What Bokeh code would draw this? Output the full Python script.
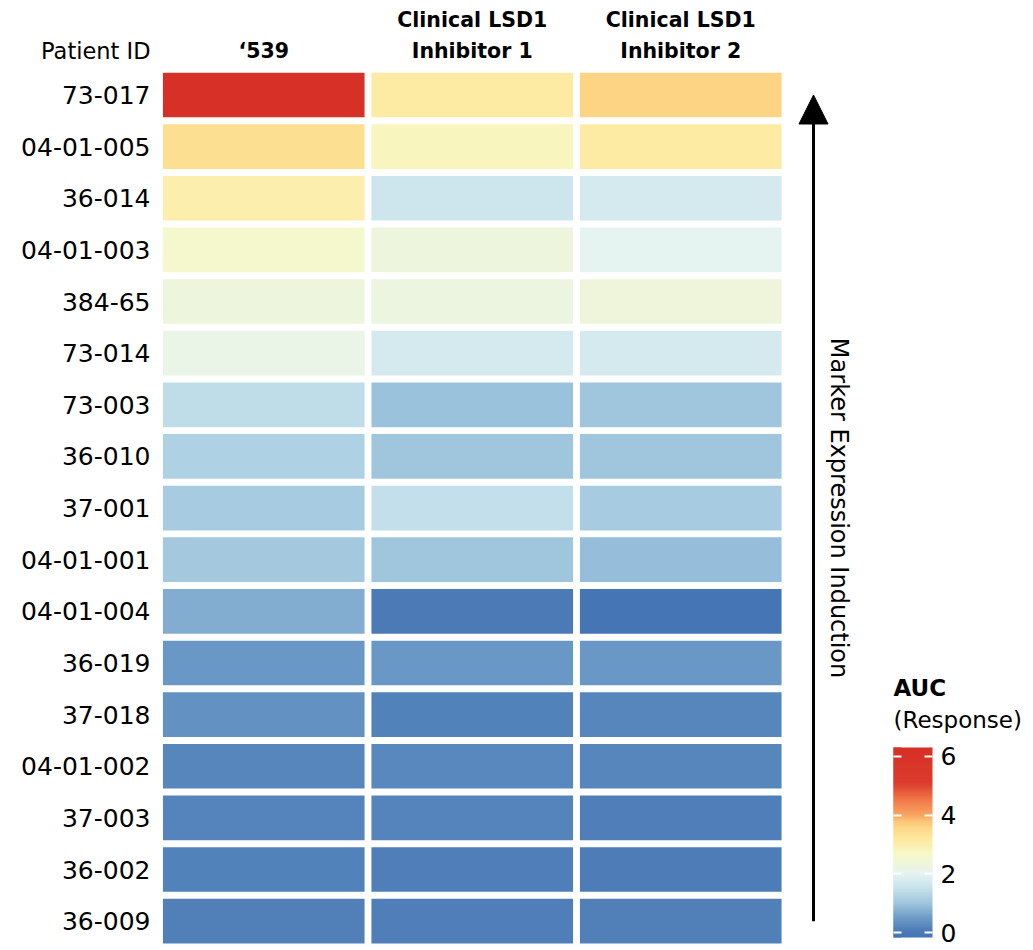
import numpy as np
from bokeh.plotting import figure
from bokeh.models import (ColumnDataSource, LinearColorMapper, ColorBar, FixedTicker,
                          Label, Arrow, NormalHead, Range1d)
from bokeh.core.properties import value
from bokeh.transform import transform
from bokeh.embed import file_html
from bokeh.resources import INLINE

# ---------------- data ----------------
patients = ["73-017", "04-01-005", "36-014", "04-01-003", "384-65", "73-014",
            "73-003", "36-010", "37-001", "04-01-001", "04-01-004", "36-019",
            "37-018", "04-01-002", "37-003", "36-002", "36-009"]
treatments = ["\u2018539", "Clinical LSD1 Inhibitor 1", "Clinical LSD1 Inhibitor 2"]
header_lines = [["\u2018539"], ["Clinical LSD1", "Inhibitor 1"], ["Clinical LSD1", "Inhibitor 2"]]
auc_539 = [6.3, 3.4, 3.0, 2.6, 2.3, 2.15, 1.4, 1.2, 1.1, 1.05, 0.7, 0.45, 0.35, 0.2, 0.17, 0.15, 0.12]
auc_inh1 = [3.1, 2.8, 1.6, 2.3, 2.25, 1.75, 0.95, 1.0, 1.45, 1.0, 0.05, 0.45, 0.15, 0.22, 0.18, 0.1, 0.1]
auc_inh2 = [3.6, 3.1, 1.75, 2.0, 2.35, 1.75, 1.0, 1.0, 1.1, 0.9, -0.17, 0.45, 0.2, 0.2, 0.1, 0.08, 0.12]
colorbar_ticks = [0, 2, 4, 6]
auc_low, auc_high = -0.17, 6.3

# ---------------- palette (RdYlBu-like gradient) ----------------
anchor_vals = [-0.17, 0.0, 0.5, 1.0, 1.5, 2.0, 2.3, 2.7, 3.1, 3.5, 3.8, 4.0, 4.5, 5.1, 6.3]
anchor_cols = ["#4575b4", "#4878b5", "#6f9dc8", "#a0c6de", "#c6e2ec", "#e6f3f1", "#eef5dc",
               "#f8f8c8", "#fdeba3", "#fddc8c", "#fdc477", "#f9a562", "#f27a4a", "#dc3b2c", "#d73027"]

def _rgb(h):
    h = h.lstrip("#")
    return [int(h[i:i + 2], 16) for i in (0, 2, 4)]

rgb = np.array([_rgb(c) for c in anchor_cols], dtype=float)
grid_v = np.linspace(auc_low, auc_high, 256)
pal = []
for v in grid_v:
    r = np.interp(v, anchor_vals, rgb[:, 0])
    g = np.interp(v, anchor_vals, rgb[:, 1])
    b = np.interp(v, anchor_vals, rgb[:, 2])
    pal.append("#%02x%02x%02x" % (int(round(r)), int(round(g)), int(round(b))))

mapper = LinearColorMapper(palette=pal, low=auc_low, high=auc_high)

# ---------------- source ----------------
n = len(patients)
row_pos = [n - 1 - i + 0.5 for i in range(n)]
xs, ys, vals = [], [], []
for j, series in enumerate([auc_539, auc_inh1, auc_inh2]):
    for yp, v in zip(row_pos, series):
        xs.append(j + 0.5)
        ys.append(yp)
        vals.append(v)
src = ColumnDataSource(dict(x=xs, y=ys, v=vals))
lab_src = ColumnDataSource(dict(x=[0] * n, y=row_pos, t=patients))

FONT = "DejaVu Sans"
W, H = 1030, 948
LEFT = 159
COL_PX = 208.5

p = figure(width=W, height=H,
           x_range=Range1d(-LEFT / COL_PX, (W - LEFT) / COL_PX),
           y_range=Range1d(-0.03, 18.33),
           x_axis_location=None, y_axis_location=None,
           toolbar_location=None, output_backend="svg",
           min_border_left=0, min_border_right=0,
           min_border_top=0, min_border_bottom=0)
p.outline_line_color = None
p.grid.visible = False
p.background_fill_color = "white"

p.rect(x="x", y="y", width=0.967, height=0.865, source=src,
       fill_color=transform("v", mapper), line_color=None)

# patient labels
p.text(x="x", y="y", text="t", source=lab_src, x_offset=-9,
       text_align="right", text_baseline="middle",
       text_font=value(FONT), text_font_size="25px", text_color="black")

# header labels
p.add_layout(Label(x=0, y=n, x_offset=-9, y_offset=18, text="Patient ID",
                   text_font=FONT, text_font_size="22.5px", text_align="right",
                   text_baseline="middle", text_color="black"))
for j, lines in enumerate(header_lines):
    offs = [18] if len(lines) == 1 else [49, 18]
    for line, off in zip(lines, offs):
        p.add_layout(Label(x=j + 0.5, y=n, y_offset=off, text=line,
                           text_font=FONT, text_font_size="20.5px", text_font_style="bold",
                           text_align="center", text_baseline="middle", text_color="black"))

# arrow
arrow_x = (813 - LEFT) / COL_PX
p.add_layout(Arrow(x_start=arrow_x, y_start=0.5, x_end=arrow_x, y_end=n - 0.5,
                   line_color="black", line_width=3,
                   end=NormalHead(size=29, fill_color="black", line_color="black")))
p.add_layout(Label(x=(838 - LEFT) / COL_PX, y=n / 2, text="Marker Expression Induction",
                   angle=-np.pi / 2, text_font=FONT, text_font_size="24px",
                   text_align="center", text_baseline="middle", text_color="black"))

# colour bar
cb = ColorBar(color_mapper=mapper, ticker=FixedTicker(ticks=colorbar_ticks),
              width=39, height=190, location=(893, 11), padding=0,
              major_label_text_font=FONT, major_label_text_font_size="25px",
              major_label_text_color="black",
              major_tick_in=8, major_tick_out=0, major_tick_line_color="white",
              major_tick_line_width=2, minor_tick_line_color=None,
              bar_line_color=None, border_line_color=None,
              background_fill_alpha=0, label_standoff=8)
p.add_layout(cb, "center")
# thin overlay bar giving the white tick dashes on the left edge too
cb_left = ColorBar(color_mapper=mapper, ticker=FixedTicker(ticks=colorbar_ticks),
                   width=8, height=190, location=(893, 11), padding=0,
                   major_label_text_alpha=0, major_label_text_font_size="25px",
                   major_tick_in=8, major_tick_out=0, major_tick_line_color="white",
                   major_tick_line_width=2, minor_tick_line_color=None,
                   bar_line_color=None, border_line_color=None,
                   background_fill_alpha=0, label_standoff=8)
p.add_layout(cb_left, "center")

leg_x = (893 - LEFT) / COL_PX
p.add_layout(Label(x=leg_x, y=0, y_offset=259, text="AUC", text_font=FONT,
                   text_font_size="23px", text_font_style="bold", text_align="left",
                   text_baseline="middle", text_color="black"))
p.add_layout(Label(x=leg_x, y=0, y_offset=227, text="(Response)", text_font=FONT,
                   text_font_size="23px", text_align="left",
                   text_baseline="middle", text_color="black"))

open("out.html", "w").write(file_html(p, INLINE))
